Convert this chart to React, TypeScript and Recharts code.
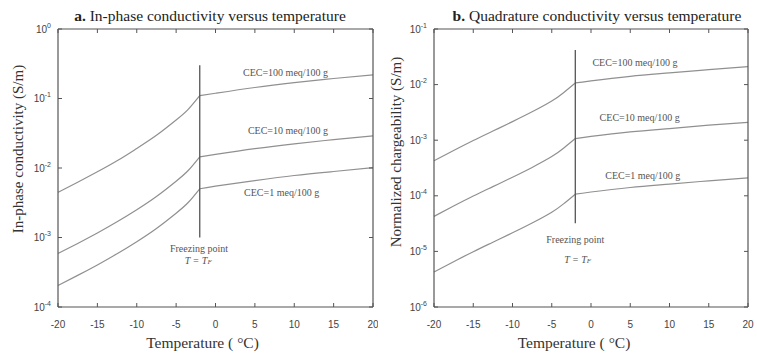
import React from 'react';
import { LineChart, Line, XAxis, YAxis, ReferenceLine, ReferenceDot, Label } from 'recharts';

// ---- data ----
const temps = [-20, -17.5, -15, -12.5, -10, -7.5, -5, -3.5, -2, 0, 5, 10, 15, 20];
const xTicks = [-20, -15, -10, -5, 0, 5, 10, 15, 20];
const freezingT = -2;

// a. In-phase conductivity (S/m): frozen branch (-20..-2), unfrozen branch (-2..20)
const inFrozen100 = [0.00447, 0.00624, 0.00881, 0.0127, 0.0191, 0.0295, 0.049, 0.0692, 0.11];
const inThawed100 = [0.11, 0.119, 0.144, 0.169, 0.194, 0.219];
const inFrozen10 = [0.000589, 0.000822, 0.00116, 0.00168, 0.00251, 0.00389, 0.00646, 0.00912, 0.0145];
const inThawed10 = [0.0145, 0.0157, 0.019, 0.0223, 0.0256, 0.029];
const inFrozen1 = [0.000204, 0.000285, 0.000403, 0.000583, 0.000871, 0.00135, 0.00224, 0.00316, 0.00503];
const inThawed1 = [0.00503, 0.0055, 0.0066, 0.0078, 0.0089, 0.0101];

// b. Normalized chargeability (S/m)
const qFrozen100 = [0.000427, 0.000653, 0.000989, 0.00146, 0.00216, 0.00324, 0.00507, 0.00716, 0.0107];
const qThawed100 = [0.0107, 0.0117, 0.0141, 0.0162, 0.0186, 0.021];
const qFrozen10 = [0.0000427, 0.0000653, 0.0000989, 0.000146, 0.000216, 0.000324, 0.000507, 0.000716, 0.00107];
const qThawed10 = [0.00107, 0.00117, 0.00141, 0.00162, 0.00186, 0.0021];
const qFrozen1 = [0.00000427, 0.00000653, 0.00000989, 0.0000146, 0.0000216, 0.0000324, 0.0000507, 0.0000716, 0.000107];
const qThawed1 = [0.000107, 0.000117, 0.000141, 0.000162, 0.000186, 0.00021];

const inYTicks = [1e-4, 1e-3, 1e-2, 1e-1, 1];
const inYExps = ['-4', '-3', '-2', '-1', '0'];
const qYTicks = [1e-6, 1e-5, 1e-4, 1e-3, 1e-2, 1e-1];
const qYExps = ['-6', '-5', '-4', '-3', '-2', '-1'];

const cecLabels = ['CEC=100 meq/100 g', 'CEC=10 meq/100 g', 'CEC=1 meq/100 g'];

function buildRows(f100: number[], u100: number[], f10: number[], u10: number[], f1: number[], u1: number[]) {
  const k = f100.length - 1;
  return temps.map((t, i) => ({
    t,
    f100: i <= k ? f100[i] : undefined,
    u100: i >= k ? u100[i - k] : undefined,
    f10: i <= k ? f10[i] : undefined,
    u10: i >= k ? u10[i - k] : undefined,
    f1: i <= k ? f1[i] : undefined,
    u1: i >= k ? u1[i - k] : undefined,
  }));
}

const inRows = buildRows(inFrozen100, inThawed100, inFrozen10, inThawed10, inFrozen1, inThawed1);
const qRows = buildRows(qFrozen100, qThawed100, qFrozen10, qThawed10, qFrozen1, qThawed1);

// ---- styles ----
const serif = '"Liberation Serif", "Times New Roman", serif';
const sans = '"Liberation Sans", Arial, sans-serif';
const axisColor = '#555';
const curveColor = '#909090';
const TICK = 4;

const LeftTick = (exps: string[], ticks: number[]) => (p: any) => {
  const idx = ticks.findIndex((v) => Math.abs(v - p.payload.value) / v < 1e-6);
  return (
    <g>
      <line x1={p.x} x2={p.x + TICK} y1={p.y} y2={p.y} stroke={axisColor} strokeWidth={1} />
      <text x={p.x - 7} y={p.y + 3.5} textAnchor="end" fontFamily={sans} fontSize={10} fill="#444">
        10
        <tspan dy={-5} fontSize={7}>{idx >= 0 ? exps[idx] : ''}</tspan>
      </text>
    </g>
  );
};

const RightTick = (p: any) => (
  <line x1={p.x} x2={p.x - TICK} y1={p.y} y2={p.y} stroke={axisColor} strokeWidth={1} />
);

const BottomTick = (p: any) => (
  <g>
    <line x1={p.x} x2={p.x} y1={p.y} y2={p.y - TICK} stroke={axisColor} strokeWidth={1} />
    <text x={p.x} y={p.y + 21} textAnchor="middle" fontFamily={sans} fontSize={10} fill="#444">
      {p.payload.value}
    </text>
  </g>
);

const TopTick = (p: any) => (
  <line x1={p.x} x2={p.x} y1={p.y} y2={p.y + TICK} stroke={axisColor} strokeWidth={1} />
);

const textAt = (content: React.ReactNode, italic = false) => (p: any) => (
  <text
    x={p.cx}
    y={p.cy}
    textAnchor="middle"
    dominantBaseline="central"
    fontFamily={serif}
    fontSize={10}
    fontStyle={italic ? 'italic' : 'normal'}
    fill="#555"
  >
    {content}
  </text>
);

type PanelProps = {
  left: number;
  width: number;
  axisWidth: number;
  rightMargin: number;
  rows: any[];
  yDomain: [number, number];
  yTicks: number[];
  yExps: string[];
  letter: string;
  title: string;
  titleX: number;
  yLabel: string;
  yLabelDx: number;
  yLabelCy: number;
  xLabelDx: number;
  lineTop: number;
  lineBottom: number;
  annos: { x: number; y: number }[];
};

function Panel(props: PanelProps) {
  const {
    left, width, axisWidth, rightMargin, rows, yDomain, yTicks, yExps, letter, title, titleX,
    yLabel, yLabelDx, yLabelCy, xLabelDx, lineTop, lineBottom, annos,
  } = props;
  const H = 354;
  const lineProps = { type: 'natural' as const, stroke: curveColor, strokeWidth: 1.2, dot: false, isAnimationActive: false };
  return (
    <div style={{ position: 'absolute', left, top: 0, width, height: H }}>
      <LineChart width={width} height={H} data={rows} margin={{ top: 28, right: rightMargin, bottom: 0, left: 0 }}>
        <XAxis
          dataKey="t"
          type="number"
          domain={[-20, 20]}
          ticks={xTicks}
          height={47}
          tickSize={0}
          tickMargin={0}
          tickLine={false}
          axisLine={{ stroke: axisColor, strokeWidth: 1.2 }}
          tick={BottomTick}
          interval={0}
        >
          <Label
            content={(lp: any) => {
              const vb = lp.viewBox;
              return (
                <text
                  x={vb.x + vb.width / 2 + xLabelDx}
                  y={vb.y + 41}
                  textAnchor="middle"
                  fontFamily={serif}
                  fontSize={15.5}
                  fill="#333"
                >
                  Temperature ( °C)
                </text>
              );
            }}
          />
        </XAxis>
        <XAxis
          xAxisId="top"
          orientation="top"
          dataKey="t"
          type="number"
          domain={[-20, 20]}
          ticks={xTicks}
          height={1}
          tickSize={0}
          tickMargin={0}
          tickLine={false}
          axisLine={{ stroke: axisColor, strokeWidth: 1.2 }}
          tick={TopTick}
          interval={0}
        />
        <YAxis
          scale="log"
          type="number"
          domain={yDomain}
          ticks={yTicks}
          width={axisWidth}
          tickSize={0}
          tickMargin={0}
          tickLine={false}
          allowDataOverflow
          axisLine={{ stroke: axisColor, strokeWidth: 1.2 }}
          tick={LeftTick(yExps, yTicks)}
          interval={0}
        >
          <Label
            content={(lp: any) => {
              const vb = lp.viewBox;
              const cx = vb.x + yLabelDx;
              return (
                <g>
                  <text
                    x={cx}
                    y={yLabelCy}
                    transform={`rotate(-90 ${cx} ${yLabelCy})`}
                    textAnchor="middle"
                    dominantBaseline="central"
                    fontFamily={serif}
                    fontSize={15}
                    fill="#333"
                  >
                    {yLabel}
                  </text>
                  <text x={titleX} y={21} textAnchor="middle" fontFamily={serif} fontSize={15.5} fill="#222">
                    <tspan fontWeight="bold">{letter}</tspan>
                    <tspan> {title}</tspan>
                  </text>
                </g>
              );
            }}
          />
        </YAxis>
        <YAxis
          yAxisId="right"
          orientation="right"
          scale="log"
          type="number"
          domain={yDomain}
          ticks={yTicks}
          width={1}
          tickSize={0}
          tickMargin={0}
          tickLine={false}
          allowDataOverflow
          axisLine={{ stroke: axisColor, strokeWidth: 1.2 }}
          tick={RightTick}
          interval={0}
        />
        <Line dataKey="f100" {...lineProps} />
        <Line dataKey="u100" {...lineProps} />
        <Line dataKey="f10" {...lineProps} />
        <Line dataKey="u10" {...lineProps} />
        <Line dataKey="f1" {...lineProps} />
        <Line dataKey="u1" {...lineProps} />
        {/* binds the mirror (top/right) axes so they get a scale; drawn invisibly */}
        <Line
          xAxisId="top"
          yAxisId="right"
          dataKey="u100"
          type="linear"
          stroke="none"
          dot={false}
          activeDot={false}
          isAnimationActive={false}
        />
        <ReferenceLine
          segment={[{ x: freezingT, y: lineBottom }, { x: freezingT, y: lineTop }]}
          stroke="#555"
          strokeWidth={1.3}
        />
        {cecLabels.map((c, i) => (
          <ReferenceDot key={c} x={annos[i].x} y={annos[i].y} r={0} shape={textAt(c)} />
        ))}
        <ReferenceDot x={annos[3].x} y={annos[3].y} r={0} shape={textAt('Freezing point')} />
        <ReferenceDot
          x={annos[4].x}
          y={annos[4].y}
          r={0}
          shape={textAt(
            <>
              T = T<tspan fontSize={7} dy={2}>F</tspan>
            </>,
            true
          )}
        />
      </LineChart>
    </div>
  );
}

export default function App() {
  return (
    <div style={{ position: 'absolute', left: 0, top: 0, width: 757, height: 354, background: '#fff' }}>
      <Panel
        left={0}
        width={378}
        axisWidth={58}
        rightMargin={4}
        rows={inRows}
        yDomain={[1e-4, 1]}
        yTicks={inYTicks}
        yExps={inYExps}
        letter="a."
        title="In-phase conductivity versus temperature"
        titleX={210}
        yLabel="In-phase conductivity (S/m)"
        yLabelDx={18}
        yLabelCy={149}
        xLabelDx={-13}
        lineTop={0.3}
        lineBottom={0.001}
        annos={[
          { x: 8.9, y: 0.24 },
          { x: 9.2, y: 0.0352 },
          { x: 8.4, y: 0.00437 },
          { x: -2.1, y: 0.000684 },
          { x: -2.2, y: 0.000474 },
        ]}
      />
      <Panel
        left={378}
        width={379}
        axisWidth={56}
        rightMargin={8}
        rows={qRows}
        yDomain={[1e-6, 1e-1]}
        yTicks={qYTicks}
        yExps={qYExps}
        letter="b."
        title="Quadrature conductivity versus temperature"
        titleX={219}
        yLabel="Normalized chargeability (S/m)"
        yLabelDx={18}
        yLabelCy={152}
        xLabelDx={-17}
        lineTop={0.042}
        lineBottom={0.000032}
        annos={[
          { x: 5.6, y: 0.0245 },
          { x: 6.2, y: 0.00251 },
          { x: 6.6, y: 0.000229 },
          { x: -2.0, y: 0.0000166 },
          { x: -1.7, y: 0.00000724 },
        ]}
      />
    </div>
  );
}
